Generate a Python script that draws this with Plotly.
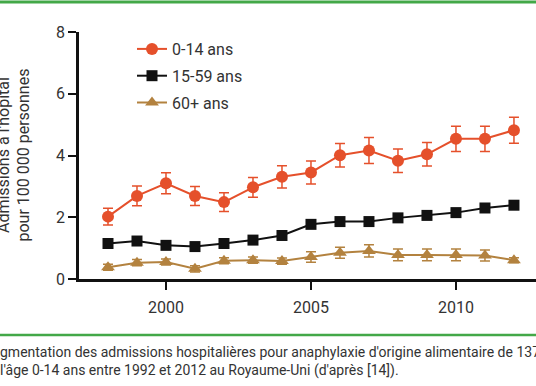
import plotly.graph_objects as go

years = list(range(1998, 2013))
kids = [2.02, 2.69, 3.10, 2.69, 2.49, 2.97, 3.31, 3.45, 4.01, 4.16, 3.83, 4.04, 4.54, 4.54, 4.82]
kids_err = [0.27, 0.32, 0.34, 0.31, 0.30, 0.32, 0.36, 0.37, 0.38, 0.42, 0.38, 0.38, 0.41, 0.41, 0.42]
adults = [1.15, 1.23, 1.09, 1.05, 1.15, 1.26, 1.41, 1.77, 1.86, 1.86, 1.98, 2.06, 2.15, 2.30, 2.39]
adults_err = [0.08, 0.08, 0.08, 0.08, 0.08, 0.08, 0.08, 0.09, 0.09, 0.09, 0.09, 0.09, 0.09, 0.1, 0.1]
seniors = [0.38, 0.53, 0.55, 0.33, 0.59, 0.61, 0.58, 0.71, 0.85, 0.91, 0.78, 0.78, 0.78, 0.76, 0.61]
seniors_err = [0.1, 0.1, 0.1, 0.1, 0.1, 0.1, 0.1, 0.17, 0.18, 0.2, 0.19, 0.19, 0.19, 0.18, 0.08]
names = ["0-14 ans", "15-59 ans", "60+ ans"]
x_ticks = [2000, 2005, 2010]
y_ticks = [0, 2, 4, 6, 8]

ORANGE = "#E5502B"
BLACK = "#111111"
BROWN = "#B3823F"
GREEN = "#43A848"
FONT = "Roboto"
TXT = "#333333"

L, T, B = 79, 32, 107
PW, PH = 536 - L, 386 - T - B

def px_x(x):
    return (x - L) / PW

def px_y(y):
    return (386 - B - y) / PH

fig = go.Figure()
series = [
    (kids, kids_err, ORANGE, "circle", 12),
    (adults, adults_err, BLACK, "square", 11),
    (seniors, seniors_err, BROWN, "triangle-up", 12),
]
for i, (vals, errs, col, sym, sz) in enumerate(series):
    fig.add_trace(go.Scatter(
        x=years, y=vals, name=names[i], mode="lines+markers",
        legendgroup=f"g{i}",
        line=dict(color=col, width=2),
        marker=dict(color=col, symbol=sym, size=sz),
        error_y=dict(type="data", array=errs, color=col, thickness=1.5, width=5),
    ))

fig.update_layout(
    width=536, height=386,
    margin=dict(l=L, r=0, t=T, b=B),
    paper_bgcolor="white", plot_bgcolor="white",
    font=dict(family=FONT, size=16, color=TXT),
    showlegend=True,
    legend=dict(x=px_x(132), y=px_y(32), xanchor="left", yanchor="top",
                font=dict(size=16, color=TXT), tracegroupgap=3,
                bgcolor="rgba(0,0,0,0)"),
    xaxis=dict(range=[1997, 2012.76], tickvals=x_ticks, showgrid=False, zeroline=False,
               showline=True, linecolor="#111111", linewidth=2.5,
               ticks="outside", ticklen=8, tickwidth=2, tickcolor="#111111",
               ticklabelstandoff=4,
               tickfont=dict(size=16, color=TXT)),
    yaxis=dict(range=[0, 8], tickvals=y_ticks, showgrid=False, zeroline=False,
               showline=True, linecolor="#111111", linewidth=2.5,
               ticks="outside", ticklen=8, tickwidth=2, tickcolor="#111111",
               tickfont=dict(size=16, color=TXT)),
)

fig.add_annotation(xref="paper", yref="paper", x=px_x(13), y=0.5,
                   text="Admissions à l'hôpital<br>pour 100 000 personnes",
                   textangle=-90, showarrow=False, xanchor="center", yanchor="middle",
                   font=dict(size=16, color=TXT))

fig.add_shape(type="line", xref="paper", yref="paper", x0=px_x(-5), x1=px_x(541),
              y0=px_y(2), y1=px_y(2), line=dict(color=GREEN, width=3))
fig.add_shape(type="line", xref="paper", yref="paper", x0=px_x(-5), x1=px_x(541),
              y0=px_y(335), y1=px_y(335), line=dict(color=GREEN, width=2.5))

fig.add_annotation(xref="paper", yref="paper", x=px_x(-2), y=px_y(352),
                   text="gmentation des admissions hospitalières pour anaphylaxie d'origine alimentaire de 137 %",
                   showarrow=False, xanchor="left", yanchor="middle",
                   font=dict(size=14, color=TXT))
fig.add_annotation(xref="paper", yref="paper", x=px_x(-2), y=px_y(370),
                   text="l'âge 0-14 ans entre 1992 et 2012 au Royaume-Uni (d'après [14]).",
                   showarrow=False, xanchor="left", yanchor="middle",
                   font=dict(size=14, color=TXT))

fig.write_html("out.html", config={"displayModeBar": False},
               post_script="document.body.style.margin='0px';")
